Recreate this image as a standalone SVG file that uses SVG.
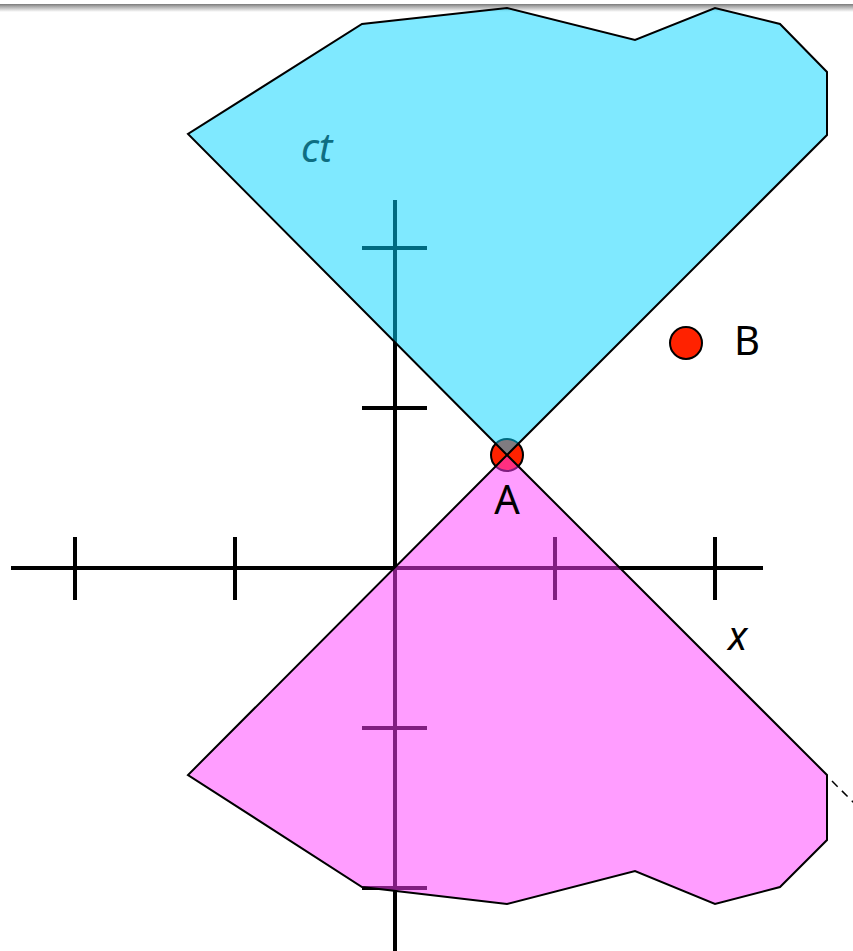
<svg xmlns="http://www.w3.org/2000/svg" width="853" height="951" viewBox="0 0 853 951">
<defs>
<linearGradient id="shade" x1="0" y1="0" x2="0" y2="1">
<stop offset="0" stop-color="#7a7a7a"/>
<stop offset="0.3" stop-color="#a8a8a8"/>
<stop offset="1" stop-color="#ffffff"/>
</linearGradient>
</defs>
<style>
.axis{stroke:#000;stroke-width:4;fill:none}
.cone{stroke:#000;stroke-width:2;stroke-linejoin:miter}
.pt{fill:#ff2200;stroke:#000;stroke-width:2}
.lbl{font-family:"Noto Sans","DejaVu Sans",sans-serif;font-size:40px;fill:#000}
</style>
<rect width="853" height="951" fill="#fff"/>
<rect x="0" y="4" width="853" height="8" fill="url(#shade)"/>
<g id="connectors">
<g id="x-axis">
<line class="axis" x1="11" y1="568" x2="763" y2="568"/>
<line class="axis" x1="75" y1="537" x2="75" y2="600"/>
<line class="axis" x1="235" y1="537" x2="235" y2="600"/>
<line class="axis" x1="555" y1="537" x2="555" y2="600"/>
<line class="axis" x1="715" y1="537" x2="715" y2="600"/>
</g>
<g id="y-axis">
<line class="axis" x1="395" y1="200" x2="395" y2="951"/>
<line class="axis" x1="362" y1="248" x2="427" y2="248"/>
<line class="axis" x1="362" y1="408" x2="427" y2="408"/>
<line class="axis" x1="362" y1="728" x2="427" y2="728"/>
<line class="axis" x1="362" y1="888" x2="427" y2="888"/>
</g>
<line id="dashed" x1="832" y1="781" x2="860" y2="809" stroke="#000" stroke-width="1.5" stroke-dasharray="8,6"/>
</g>
<g id="pointA">
<circle class="pt" cx="507" cy="455" r="16"/>
</g>
<g id="future-cone">
<polygon class="cone" fill="#00d4ff" fill-opacity="0.5" points="507,455 188,134 362,24 507,8 635,40 715,8 780,24 827,72 827,135"/>
</g>
<g id="past-cone">
<polygon class="cone" fill="#ff3cff" fill-opacity="0.5" points="507,455 188,775 362,887 507,904 635,871 715,904 780,887 827,840 827,775"/>
</g>
<g id="pointB">
<circle class="pt" cx="686" cy="343" r="16"/>
<text class="lbl" x="734" y="355">B</text>
</g>
<g id="labels">
<text class="lbl" x="507" y="514" text-anchor="middle">A</text>
<text class="lbl" x="301" y="162" font-style="italic" style="fill:#0e6e82">ct</text>
<text class="lbl" x="728" y="650" font-style="italic">x</text>
</g>
</svg>
